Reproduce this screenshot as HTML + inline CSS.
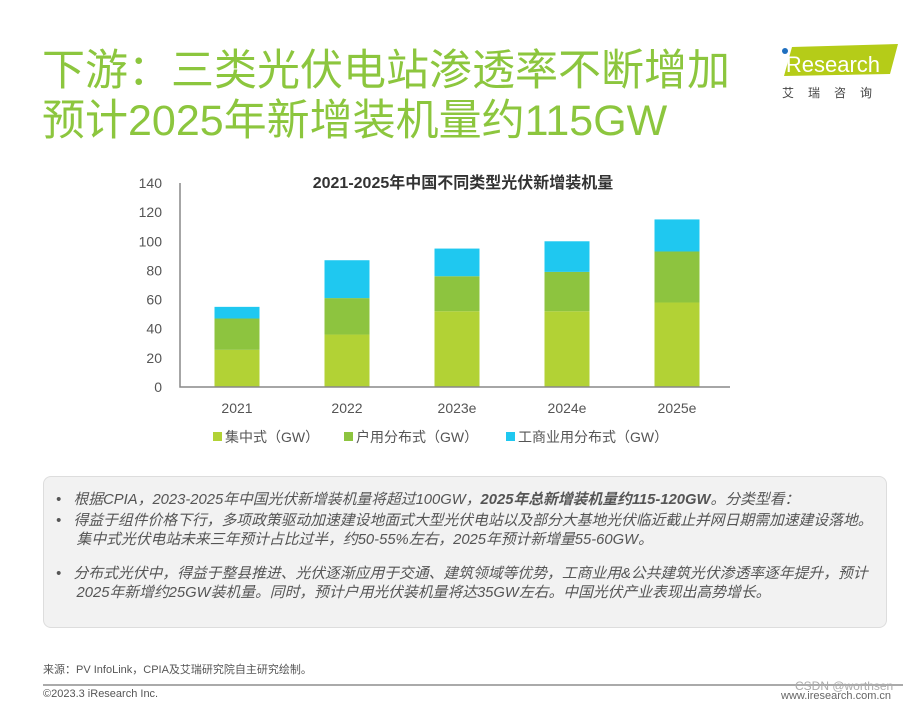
<!DOCTYPE html>
<html><head><meta charset="utf-8"><style>
body{margin:0;width:915px;height:702px;background:#fff;position:relative;overflow:hidden;font-family:"Liberation Sans","Noto Sans CJK SC",sans-serif}
.t{position:absolute;white-space:nowrap}
</style></head><body>
<div class="t" style="left:42px;top:46px;font-size:43px;line-height:50px;color:#8cc63e">下游：三类光伏电站渗透率不断增加<br>预计2025年新增装机量约115GW</div>
<svg style="position:absolute;left:770px;top:38px" width="140" height="64">
<polygon points="22,9 128,6 120,36 14,38" fill="#b5cc18"/>
<circle cx="15" cy="13" r="3" fill="#1f6fbf"/>
<text x="11" y="34" font-size="22" fill="#fff" font-family="Liberation Sans,sans-serif">iResearch</text>
<text x="12" y="59" font-size="12" fill="#444" letter-spacing="14" font-family="Liberation Sans,Noto Sans CJK SC,sans-serif">艾瑞咨询</text>
</svg>
<svg id="chart" style="position:absolute;left:0;top:0" width="915" height="460"></svg>
<div style="position:absolute;left:43px;top:476px;width:842px;height:150px;background:#f2f2f2;border:1px solid #ddd;border-radius:8px;font-size:14.8px;line-height:19px;color:#555;font-style:italic">
<div class="t" style="left:12px;top:14px">•&nbsp;&nbsp;&nbsp;根据CPIA，2023-2025年中国光伏新增装机量将超过100GW，<b>2025年总新增装机量约115-120GW</b>。分类型看：</div>
<div class="t" style="left:12px;top:35px">•&nbsp;&nbsp;&nbsp;得益于组件价格下行，多项政策驱动加速建设地面式大型光伏电站以及部分大基地光伏临近截止并网日期需加速建设落地。<br>&nbsp;&nbsp;&nbsp;&nbsp;&nbsp;集中式光伏电站未来三年预计占比过半，约50-55%左右，2025年预计新增量55-60GW。</div>
<div class="t" style="left:12px;top:88px">•&nbsp;&nbsp;&nbsp;分布式光伏中，得益于整县推进、光伏逐渐应用于交通、建筑领域等优势，工商业用&amp;公共建筑光伏渗透率逐年提升，预计<br>&nbsp;&nbsp;&nbsp;&nbsp;&nbsp;2025年新增约25GW装机量。同时，预计户用光伏装机量将达35GW左右。中国光伏产业表现出高势增长。</div>
</div>
<div class="t" style="left:43px;top:661px;font-size:11px;color:#555">来源：PV InfoLink，CPIA及艾瑞研究院自主研究绘制。</div>
<div style="position:absolute;left:43px;top:684px;width:860px;height:2px;background:#aaa"></div>
<div class="t" style="left:43px;top:688px;font-size:11px;color:#555">©2023.3 iResearch Inc.</div>
<div class="t" style="left:781px;top:690px;font-size:11px;color:#666">www.iresearch.com.cn</div>
<div class="t" style="left:795px;top:679px;font-size:12px;color:#aaa">CSDN @worthsen</div>
<script>
const categories=["2021","2022","2023e","2024e","2025e"];
const centralized=[25.5,36,52,52,58];
const residential=[21.5,25,24,27,35];
const commercial=[8,26,19,21,22];
const yTicks=[0,20,40,60,80,100,120,140];
const seriesNames=["集中式（GW）","户用分布式（GW）","工商业用分布式（GW）"];
const colors=["#b2d235","#8dc43f","#1fc8f0"];
const svg=document.getElementById('chart');
const NS="http://www.w3.org/2000/svg";
const x0=180,plotW=550,y0=387,yMax=140,plotH=204;
const band=plotW/categories.length,barW=45;
const yS=v=>y0-v/yMax*plotH;
const xC=i=>x0+2+band*(i+0.5);
function mk(t,a){const e=document.createElementNS(NS,t);for(const k in a)e.setAttribute(k,a[k]);svg.appendChild(e);return e;}
let e=mk('text',{x:463,y:188,'font-size':16,'font-weight':'bold','text-anchor':'middle',fill:'#333'});e.textContent="2021-2025年中国不同类型光伏新增装机量";


yTicks.forEach(v=>{const t=mk('text',{x:162,y:yS(v)+5,'font-size':14,'text-anchor':'end',fill:'#555'});t.textContent=v;

});
const series=[centralized,residential,commercial];
categories.forEach((c,i)=>{let base=0;series.forEach((s,k)=>{const r=mk('rect',{x:xC(i)-barW/2,y:yS(base+s[i]),width:barW,height:yS(base)-yS(base+s[i]),fill:colors[k]});


base+=s[i];});
const t=mk('text',{x:xC(i),y:413,'font-size':14,'text-anchor':'middle',fill:'#555'});t.textContent=c;

});
let a=mk('path',{d:`M${x0} ${yS(140)}V${y0}H${x0+plotW}`,stroke:'#888','stroke-width':1.5,fill:'none'});


const lx=[213,344,506];
seriesNames.forEach((n,k)=>{const r=mk('rect',{x:lx[k],y:432,width:9,height:9,fill:colors[k]});


const t=mk('text',{x:lx[k]+12,y:442,'font-size':14,fill:'#555'});t.textContent=n;

});
</script>
</body></html>
